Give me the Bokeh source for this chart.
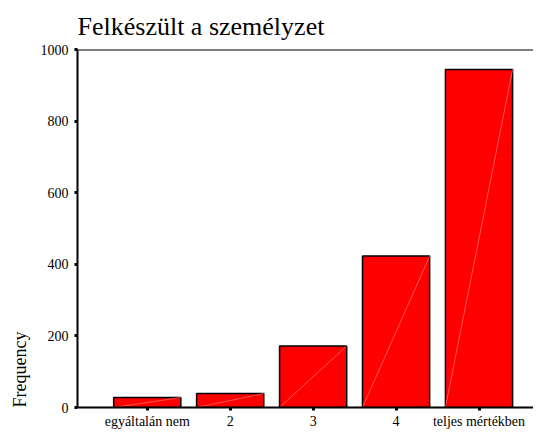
import numpy as np
from bokeh.plotting import figure
from bokeh.models import Range1d, FixedTicker, Span, Title
from bokeh.embed import file_html
from bokeh.resources import INLINE

categories = ["egyáltalán nem", "2", "3", "4", "teljes mértékben"]
frequencies = [28, 39, 172, 423, 944]
y_ticks = [0, 200, 400, 600, 800, 1000]
title_text = "Felkészült a személyzet"
y_label = "Frequency"

FONT = "Times New Roman"
xs = np.arange(len(categories))
vals = np.array(frequencies)
bar_w = 0.81

p = figure(width=533, height=431, output_backend="svg", toolbar_location=None,
           x_range=Range1d(-0.841, 4.657), y_range=Range1d(0, 1000),
           min_border_left=72, min_border_right=0, min_border_top=0, min_border_bottom=0,
           title=title_text)
p.title.text_font = FONT
p.title.text_font_size = "26px"
p.title.text_font_style = "normal"
p.title.align = "left"
p.title.text_color = "black"
p.title.standoff = 18

p.add_layout(Title(text=y_label, align="left", text_font=FONT, text_font_size="18px",
                   text_font_style="normal", text_color="black", standoff=15), "left")

p.outline_line_color = None
p.xgrid.visible = False
p.ygrid.visible = False
p.background_fill_color = "white"

p.vbar(x=xs, top=vals, width=bar_w, fill_color="#FF0000", line_color="black", line_width=1.5)
p.segment(x0=xs - bar_w / 2, y0=np.zeros(len(xs)), x1=xs + bar_w / 2, y1=vals,
          line_color="#ff7a7a", line_width=0.7)

p.add_layout(Span(location=y_ticks[-1], dimension="width", line_color="black", line_width=2))

for ax in (p.xaxis[0], p.yaxis[0]):
    ax.axis_line_color = "black"
    ax.axis_line_width = 2
    ax.major_tick_line_color = "black"
    ax.major_tick_line_width = 3
    ax.major_tick_in = 0
    ax.major_tick_out = 3
    ax.minor_tick_line_color = None
    ax.major_label_text_font = FONT
    ax.major_label_text_font_size = "14px"
    ax.major_label_text_color = "black"
    ax.axis_label_standoff = 0

p.yaxis.ticker = FixedTicker(ticks=y_ticks)
p.yaxis.major_label_standoff = 6

p.xaxis.ticker = FixedTicker(ticks=list(xs))
p.xaxis.major_label_overrides = {int(i): c for i, c in zip(xs, categories)}
p.xaxis.major_label_standoff = 3

open("out.html", "w").write(file_html(p, INLINE))
